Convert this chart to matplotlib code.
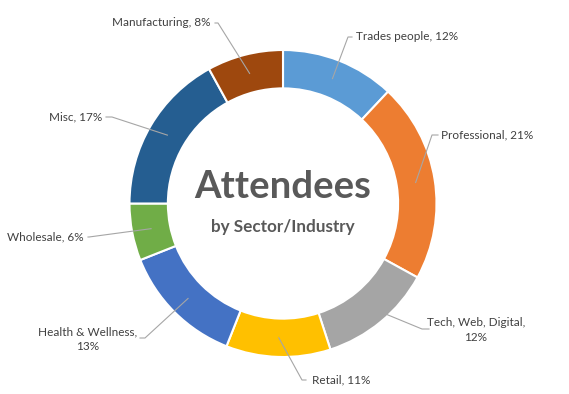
import numpy as np
import matplotlib
matplotlib.use("Agg")
import matplotlib.pyplot as plt
from matplotlib.lines import Line2D
from matplotlib.transforms import IdentityTransform

sectors = ["Trades people", "Professional", "Tech, Web, Digital", "Retail",
           "Health & Wellness", "Wholesale", "Misc", "Manufacturing"]
shares = [12, 21, 12, 11, 13, 6, 17, 8]
colors = ["#5B9BD5", "#ED7D31", "#A5A5A5", "#FFC000",
          "#4472C4", "#70AD47", "#255E91", "#9E480E"]

W, H = 569, 394
fig = plt.figure(figsize=(W / 100, H / 100), dpi=100)
cx, cy, R = 283, 203.5, 153.5
ax = fig.add_axes([(cx - R) / W, (H - cy - R) / H, 2 * R / W, 2 * R / H])

wedges, _ = ax.pie(shares, colors=colors, startangle=90, counterclock=False,
                   radius=1, wedgeprops=dict(width=0.25, edgecolor="white", linewidth=1.5))
ax.set_xlim(-1, 1)
ax.set_ylim(-1, 1)
ax.set_aspect("equal")
ax.axis("off")

ax.text(0, 0.105, "Attendees", ha="center", va="center", fontsize=27.5,
        fontweight="bold", color="#595959", family="Lato")
ax.text(0, -0.155, "by Sector/Industry", ha="center", va="center", fontsize=12.3,
        fontweight="bold", color="#595959", family="Lato")

# label layout in image pixels: text pos, ha, line start, elbow
layout = [
    ((356, 37), "left", (352, 37), (348, 37)),
    ((441, 135), "left", (438, 135), (432, 135)),
    ((476, 330), "center", (429, 329), (422, 329)),
    ((312, 380), "left", (306, 380), (302, 380)),
    ((88, 339), "center", (140, 338), (145, 338)),
    ((84, 237), "right", (88, 237), (89, 237)),
    ((102, 117), "right", (106, 117), (112, 117)),
    ((211, 23), "right", (215, 23), (218, 23)),
]
labels = ["Trades people, 12%", "Professional, 21%", "Tech, Web, Digital,\n12%",
          "Retail, 11%", "Health & Wellness,\n13%", "Wholesale, 6%",
          "Misc, 17%", "Manufacturing, 8%"]

for w, lab, (tpos, ha, p0, p1) in zip(wedges, labels, layout):
    mid = np.deg2rad((w.theta1 + w.theta2) / 2)
    ax_pt = ax.transData.transform((0.875 * np.cos(mid), 0.875 * np.sin(mid)))
    fig.text(tpos[0] / W, 1 - tpos[1] / H, lab, ha=ha, va="center", fontsize=8.5,
             color="#404040", family="Lato", linespacing=1.35,
             multialignment="center")
    xs = [p0[0], p1[0], ax_pt[0]]
    ys = [H - p0[1], H - p1[1], ax_pt[1]]
    fig.add_artist(Line2D(xs, ys, transform=IdentityTransform(),
                          color="#A6A6A6", linewidth=0.8))

fig.savefig("out.png", dpi=100)
